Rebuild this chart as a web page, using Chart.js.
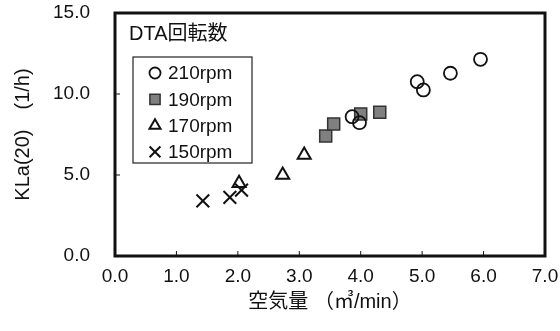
<!DOCTYPE html>
<html>
<head>
<meta charset="utf-8">
<script src="https://cdn.jsdelivr.net/npm/chart.js@4"></script>
<style>
  body { margin: 0; background: #fff; }
  #wrap { width: 560px; height: 331px; }
</style>
</head>
<body>
<div id="wrap"><canvas id="myChart"></canvas></div>
<script>
const FONT = "'Liberation Sans', 'Noto Sans CJK JP', sans-serif";

// 空気量 (m3/min) と KLa(20) (1/h)
const air210 = [3.86, 3.98, 4.92, 5.02, 5.46, 5.95];
const kla210 = [8.60, 8.23, 10.76, 10.25, 11.28, 12.14];
const air190 = [3.43, 3.56, 4.00, 4.31];
const kla190 = [7.41, 8.15, 8.77, 8.87];
const air170 = [2.02, 2.73, 3.08];
const kla170 = [4.49, 5.00, 6.23];
const air150 = [1.43, 1.87, 2.06];
const kla150 = [3.40, 3.62, 4.07];

const legendTitle = 'DTA回転数';
const seriesNames = ['210rpm', '190rpm', '170rpm', '150rpm'];
const xTicks = [0, 1, 2, 3, 4, 5, 6, 7];
const yTicks = [0, 5, 10, 15];

function pts(xs, ys) {
  return xs.map((x, i) => ({ x: x, y: ys[i] }));
}

// 枠と内向きの目盛り
const framePlugin = {
  id: 'frame',
  afterDatasetsDraw(chart) {
    const ctx = chart.ctx;
    const a = chart.chartArea;
    ctx.save();
    ctx.strokeStyle = '#111';
    ctx.lineWidth = 1;
    ctx.beginPath();
    xTicks.forEach(v => {
      const px = chart.scales.x.getPixelForValue(v);
      ctx.moveTo(px, a.bottom);
      ctx.lineTo(px, a.bottom - 5);
    });
    yTicks.forEach(v => {
      const py = chart.scales.y.getPixelForValue(v);
      ctx.moveTo(a.left, py);
      ctx.lineTo(a.left + 5, py);
    });
    ctx.stroke();
    ctx.lineWidth = 3;
    ctx.strokeRect(a.left, a.top, a.right - a.left, a.bottom - a.top);
    ctx.restore();
  }
};

// 凡例 (グラフ内)
const legendPlugin = {
  id: 'boxLegend',
  afterDraw(chart) {
    const ctx = chart.ctx;
    const a = chart.chartArea;
    ctx.save();
    ctx.fillStyle = '#111';
    ctx.font = '20px ' + FONT;
    ctx.textBaseline = 'middle';
    ctx.textAlign = 'left';
    ctx.fillText(legendTitle, a.left + 14, a.top + 21);

    const bx = a.left + 18, by = a.top + 44, bw = 119, bh = 106;
    ctx.strokeStyle = '#222';
    ctx.lineWidth = 1.2;
    ctx.strokeRect(bx, by, bw, bh);

    chart.data.datasets.forEach((ds, i) => {
      const cy = by + 16 + i * 26.3;
      ctx.fillStyle = ds.backgroundColor;
      ctx.strokeStyle = ds.borderColor;
      ctx.lineWidth = ds.borderWidth;
      Chart.helpers.drawPoint(ctx, {
        pointStyle: ds.pointStyle,
        radius: ds.pointRadius * 0.85,
        borderWidth: ds.borderWidth,
        rotation: 0
      }, bx + 22, cy);
      ctx.fillStyle = '#111';
      ctx.font = '19px ' + FONT;
      ctx.fillText(ds.label, bx + 35, cy + 1);
    });
    ctx.restore();
  }
};

const ctx = document.getElementById('myChart');
new Chart(ctx, {
  type: 'scatter',
  data: {
    datasets: [
      {
        label: seriesNames[0],
        data: pts(air210, kla210),
        pointStyle: 'circle',
        pointRadius: 6.5,
        backgroundColor: 'rgba(255,255,255,0)',
        borderColor: '#111',
        borderWidth: 1.8
      },
      {
        label: seriesNames[1],
        data: pts(air190, kla190),
        pointStyle: 'rect',
        pointRadius: 8.5,
        backgroundColor: '#808080',
        borderColor: '#333',
        borderWidth: 1.5
      },
      {
        label: seriesNames[2],
        data: pts(air170, kla170),
        pointStyle: 'triangle',
        pointRadius: 7.5,
        backgroundColor: 'rgba(255,255,255,0)',
        borderColor: '#111',
        borderWidth: 2
      },
      {
        label: seriesNames[3],
        data: pts(air150, kla150),
        pointStyle: 'crossRot',
        pointRadius: 9,
        backgroundColor: '#111',
        borderColor: '#111',
        borderWidth: 2
      }
    ]
  },
  options: {
    responsive: true,
    maintainAspectRatio: false,
    animation: false,
    layout: { padding: { top: 13, right: 15, left: 0, bottom: 0 } },
    plugins: {
      legend: { display: false },
      tooltip: { enabled: false }
    },
    scales: {
      x: {
        type: 'linear',
        min: 0,
        max: 7,
        afterBuildTicks: (s) => { s.ticks = xTicks.map(v => ({ value: v })); },
        afterFit: (s) => { s.height = 75; s.paddingLeft = 0; s.paddingRight = 0; },
        grid: { display: false, drawTicks: false, tickLength: 0 },
        border: { display: false },
        ticks: {
          color: '#111',
          padding: 9,
          font: { family: FONT, size: 19 },
          callback: (v) => v.toFixed(1)
        },
        title: {
          display: true,
          text: '空気量 （㎥/min）',
          color: '#111',
          font: { family: FONT, size: 20 },
          padding: { top: 0, bottom: 17 }
        }
      },
      y: {
        type: 'linear',
        min: 0,
        max: 15,
        afterBuildTicks: (s) => { s.ticks = yTicks.map(v => ({ value: v })); },
        afterFit: (s) => { s.width = 115; s.paddingTop = 0; s.paddingBottom = 0; },
        grid: { display: false, drawTicks: false, tickLength: 0 },
        border: { display: false },
        ticks: {
          color: '#111',
          padding: 25,
          font: { family: FONT, size: 19 },
          callback: (v) => v.toFixed(1)
        },
        title: {
          display: true,
          text: 'KLa(20)　(1/h)',
          color: '#111',
          font: { family: FONT, size: 20 },
          padding: { top: 11, bottom: 0 }
        }
      }
    }
  },
  plugins: [framePlugin, legendPlugin]
});
</script>
</body>
</html>
